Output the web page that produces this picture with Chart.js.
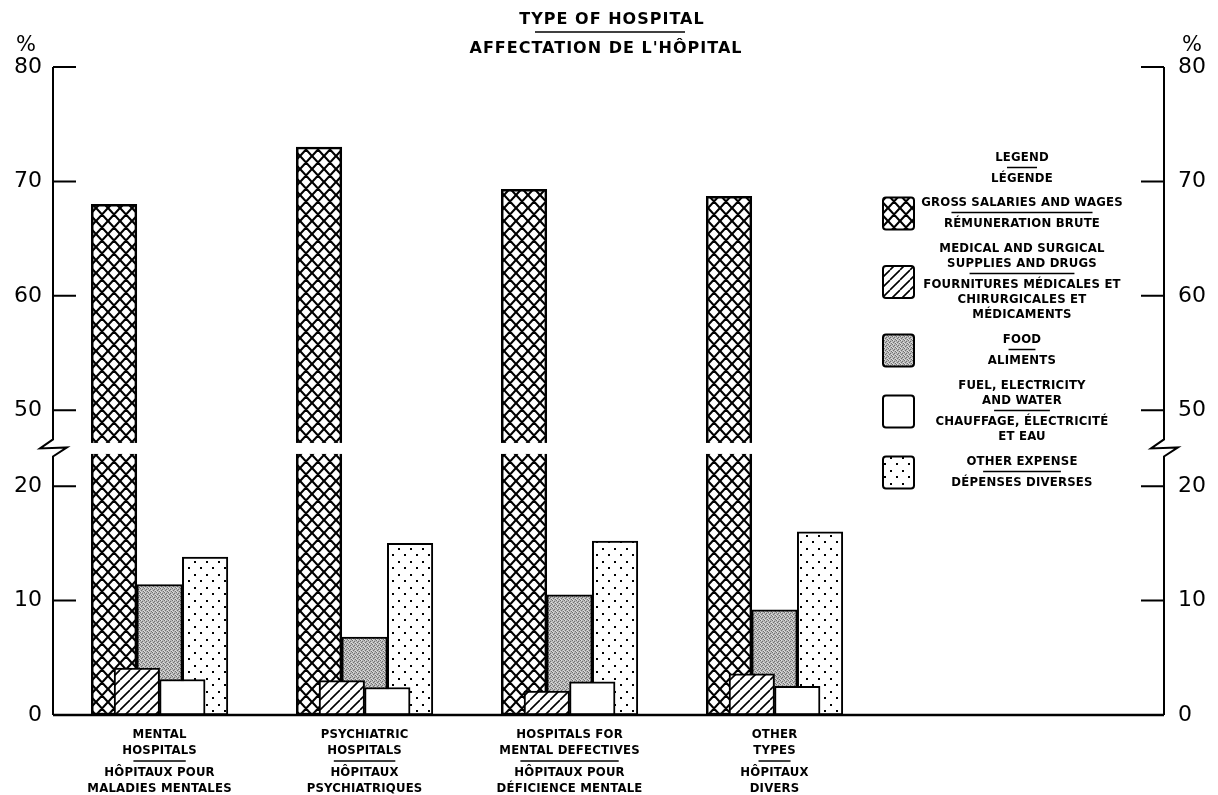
<!DOCTYPE html>
<html>
<head>
<meta charset="utf-8">
<script src="https://cdn.jsdelivr.net/npm/chart.js@4.4.0/dist/chart.umd.min.js"></script>
<style>
  html, body { margin: 0; padding: 0; background: #fff; }
  #wrap { width: 1218px; height: 795px; position: relative; }
</style>
</head>
<body>
<div id="wrap"><canvas id="hospitalChart"></canvas></div>
<script>
// Hospital types, English lines / French lines
const typesEn = [['MENTAL', 'HOSPITALS'], ['PSYCHIATRIC', 'HOSPITALS'], ['HOSPITALS FOR', 'MENTAL DEFECTIVES'], ['OTHER', 'TYPES']];
const typesFr = [['HÔPITAUX POUR', 'MALADIES MENTALES'], ['HÔPITAUX', 'PSYCHIATRIQUES'], ['HÔPITAUX POUR', 'DÉFICIENCE MENTALE'], ['HÔPITAUX', 'DIVERS']];

// % of expenditure, one value per hospital type
const salaries = [68.0, 73.0, 69.3, 68.7];
const medical = [4.1, 3.0, 2.1, 3.6];
const food = [11.4, 6.8, 10.5, 9.2];
const fuel = [3.1, 2.4, 2.9, 2.5];
const other = [13.8, 15.0, 15.2, 16.0];

// y axis labels (the axis is broken between 20 and 50)
const yTicks = [0, 10, 20, 50, 60, 70, 80];

// legend text
const legendEn = [['GROSS SALARIES AND WAGES'], ['MEDICAL AND SURGICAL', 'SUPPLIES AND DRUGS'], ['FOOD'], ['FUEL, ELECTRICITY', 'AND WATER'], ['OTHER EXPENSE']];
const legendFr = [['RÉMUNERATION BRUTE'], ['FOURNITURES MÉDICALES ET', 'CHIRURGICALES ET', 'MÉDICAMENTS'], ['ALIMENTS'], ['CHAUFFAGE, ÉLECTRICITÉ', 'ET EAU'], ['DÉPENSES DIVERSES']];

// axis break: values above the break are pulled down by SKIP
const BREAK_AT = 23.3;
const SKIP = 23.36;
const toAxis = v => (v > 40 ? v - SKIP : v);
const fromAxis = d => Math.round(d > BREAK_AT ? d + SKIP : d);

const LABEL_FONT = 'bold 13px "DejaVu Sans Condensed", "Liberation Sans Narrow", "DejaVu Sans", sans-serif';

// fill patterns
function makeTile(w, h, draw) {
    const c = document.createElement('canvas');
    c.width = w; c.height = h;
    const g = c.getContext('2d');
    g.fillStyle = '#fff';
    g.fillRect(0, 0, w, h);
    draw(g, w, h);
    return g.createPattern(c, 'repeat');
}

const crossHatch = makeTile(12, 13, (g, w, h) => {
    g.strokeStyle = '#000';
    g.lineWidth = 2.2;
    g.beginPath();
    for (const k of [-1, 0, 1]) {
        g.moveTo(k * w, 0); g.lineTo(k * w + w, h);
        g.moveTo(k * w + w, 0); g.lineTo(k * w, h);
    }
    g.stroke();
});

const slantHatch = makeTile(10, 10, (g, w, h) => {
    g.strokeStyle = '#000';
    g.lineWidth = 1.6;
    g.beginPath();
    for (const k of [-1, 0, 1]) {
        g.moveTo(k * w, h); g.lineTo(k * w + w, 0);
    }
    g.stroke();
});

const greyStipple = makeTile(4, 4, (g) => {
    g.fillStyle = '#b8b8b8';
    g.fillRect(0, 0, 4, 4);
    g.fillStyle = '#707070';
    [[0, 0], [2, 1], [1, 2], [3, 3]].forEach(([a, b]) => g.fillRect(a, b, 1, 1));
    g.fillStyle = '#dedede';
    [[1, 0], [3, 2], [0, 3]].forEach(([a, b]) => g.fillRect(a, b, 1, 1));
});

const dots = makeTile(12, 13, (g) => {
    g.fillStyle = '#000';
    g.fillRect(2, 2, 2, 2);
    g.fillRect(8, 8, 2, 2);
});

const plain = '#fff';

// bars sit half a bar apart inside each group
const step = 0.111;
const bars = (vals, shift) => vals.map((v, i) => ({ x: i + shift * step, y: toAxis(v) }));

// titles, legend, category labels, broken axes
const decor = {
    id: 'decor',
    afterDatasetsDraw(chart) {
        const { ctx, chartArea: a, scales: { x, y } } = chart;
        const yb = y.getPixelForValue(BREAK_AT);
        ctx.save();

        // gap cut through the bars at the break
        ctx.fillStyle = '#fff';
        ctx.fillRect(a.left + 2, yb - 5.5, x.getPixelForValue(3.5) - a.left, 11);

        ctx.strokeStyle = '#000';
        ctx.lineWidth = 2;

        // both vertical axes with zigzag, ticks pointing inward
        [[a.left, 1], [a.right, -1]].forEach(([xp, dir]) => {
            ctx.beginPath();
            ctx.moveTo(xp, a.top);
            ctx.lineTo(xp, yb - 9);
            ctx.lineTo(xp - 13, yb);
            ctx.lineTo(xp + 14, yb - 1);
            ctx.lineTo(xp, yb + 8);
            ctx.lineTo(xp, a.bottom);
            yTicks.forEach(v => {
                const yp = y.getPixelForValue(toAxis(v));
                ctx.moveTo(xp, yp);
                ctx.lineTo(xp + dir * 23, yp);
            });
            ctx.stroke();
        });

        // baseline
        ctx.lineWidth = 2.5;
        ctx.beginPath();
        ctx.moveTo(a.left, a.bottom);
        ctx.lineTo(a.right, a.bottom);
        ctx.stroke();

        // % signs
        ctx.fillStyle = '#000';
        ctx.textAlign = 'center';
        ctx.textBaseline = 'middle';
        ctx.font = '21px "DejaVu Sans", sans-serif';
        ctx.fillText('%', 26, 46);
        ctx.fillText('%', 1192, 46);

        // title
        ctx.font = 'bold 16px "DejaVu Sans", sans-serif';
        ctx.letterSpacing = '1px';
        ctx.fillText('TYPE OF HOSPITAL', 612, 20);
        ctx.fillText("AFFECTATION DE L'HÔPITAL", 606, 49);
        ctx.lineWidth = 1.5;
        ctx.beginPath();
        ctx.moveTo(535, 32); ctx.lineTo(685, 32);
        ctx.stroke();

        ctx.font = LABEL_FONT;
        ctx.letterSpacing = '0.2px';

        // category labels under the bars
        typesEn.forEach((en, i) => {
            const cx = x.getPixelForValue(i);
            const yy = 735;
            en.forEach((t, j) => ctx.fillText(t, cx, yy + j * 15.5));
            const lastEn = yy + (en.length - 1) * 15.5;
            const w = Math.max(...en.map(t => ctx.measureText(t).width)) * 0.7;
            ctx.lineWidth = 1.5;
            ctx.beginPath();
            ctx.moveTo(cx - w / 2, lastEn + 10.5); ctx.lineTo(cx + w / 2, lastEn + 10.5);
            ctx.stroke();
            typesFr[i].forEach((t, j) => ctx.fillText(t, cx, lastEn + 22 + j * 16));
        });

        // legend
        const lx = 1022;
        ctx.fillText('LEGEND', lx, 158);
        ctx.fillText('LÉGENDE', lx, 179);
        ctx.beginPath();
        ctx.moveTo(1007, 167.5); ctx.lineTo(1037, 167.5);
        ctx.stroke();

        const fills = [crossHatch, slantHatch, greyStipple, plain, dots];
        let yy = 203;
        legendEn.forEach((en, i) => {
            const top = yy;
            en.forEach((t, j) => ctx.fillText(t, lx, yy + j * 15));
            const lastEn = yy + (en.length - 1) * 15;
            const w = ctx.measureText(en[en.length - 1]).width * 0.7;
            ctx.lineWidth = 1.5;
            ctx.beginPath();
            ctx.moveTo(lx - w / 2, lastEn + 9.5); ctx.lineTo(lx + w / 2, lastEn + 9.5);
            ctx.stroke();
            const fr = legendFr[i];
            fr.forEach((t, j) => ctx.fillText(t, lx, lastEn + 21 + j * 15));
            const bottom = lastEn + 21 + (fr.length - 1) * 15;
            const mid = (top + bottom) / 2;
            ctx.fillStyle = fills[i];
            ctx.lineWidth = 2;
            ctx.beginPath();
            ctx.roundRect(883, mid - 16, 31, 32, 3);
            ctx.fill();
            ctx.stroke();
            ctx.fillStyle = '#000';
            yy = bottom + 25;
        });

        ctx.restore();
    }
};

const yAxis = (position, pad, width) => ({
    position,
    min: 0,
    max: toAxis(80),
    grid: { display: false, drawTicks: false },
    border: { display: false },
    afterBuildTicks: s => { s.ticks = yTicks.map(v => ({ value: toAxis(v) })); },
    afterFit: s => { s.width = width; },
    ticks: {
        padding: pad,
        color: '#000',
        font: { family: '"DejaVu Sans", sans-serif', size: 22 },
        callback: v => fromAxis(v)
    }
});

const barStyle = { borderColor: '#000', borderWidth: 2, borderSkipped: false, barThickness: 45.5, grouped: false };

new Chart(document.getElementById('hospitalChart').getContext('2d'), {
    type: 'bar',
    data: {
        datasets: [
            { label: 'Gross salaries and wages', data: bars(salaries, -2), backgroundColor: crossHatch, order: 5, ...barStyle, borderWidth: 2.5 },
            { label: 'Medical and surgical supplies and drugs', data: bars(medical, -1), backgroundColor: slantHatch, order: 1, ...barStyle },
            { label: 'Food', data: bars(food, 0), backgroundColor: greyStipple, order: 4, ...barStyle },
            { label: 'Fuel, electricity and water', data: bars(fuel, 1), backgroundColor: plain, order: 2, ...barStyle },
            { label: 'Other expense', data: bars(other, 2), backgroundColor: dots, order: 3, ...barStyle }
        ]
    },
    options: {
        responsive: true,
        maintainAspectRatio: false,
        animation: false,
        events: [],
        layout: { padding: { top: 67, left: 0, right: 0, bottom: 0 } },
        plugins: {
            legend: { display: false },
            tooltip: { enabled: false }
        },
        scales: {
            x: {
                type: 'linear',
                offset: false,
                min: -0.52,
                max: 4.9,
                grid: { display: false, drawTicks: false },
                border: { display: false },
                ticks: { display: false },
                afterFit: s => { s.height = 80; }
            },
            y: yAxis('left', 11, 53),
            y2: yAxis('right', 14, 54)
        }
    },
    plugins: [decor]
});
</script>
</body>
</html>
